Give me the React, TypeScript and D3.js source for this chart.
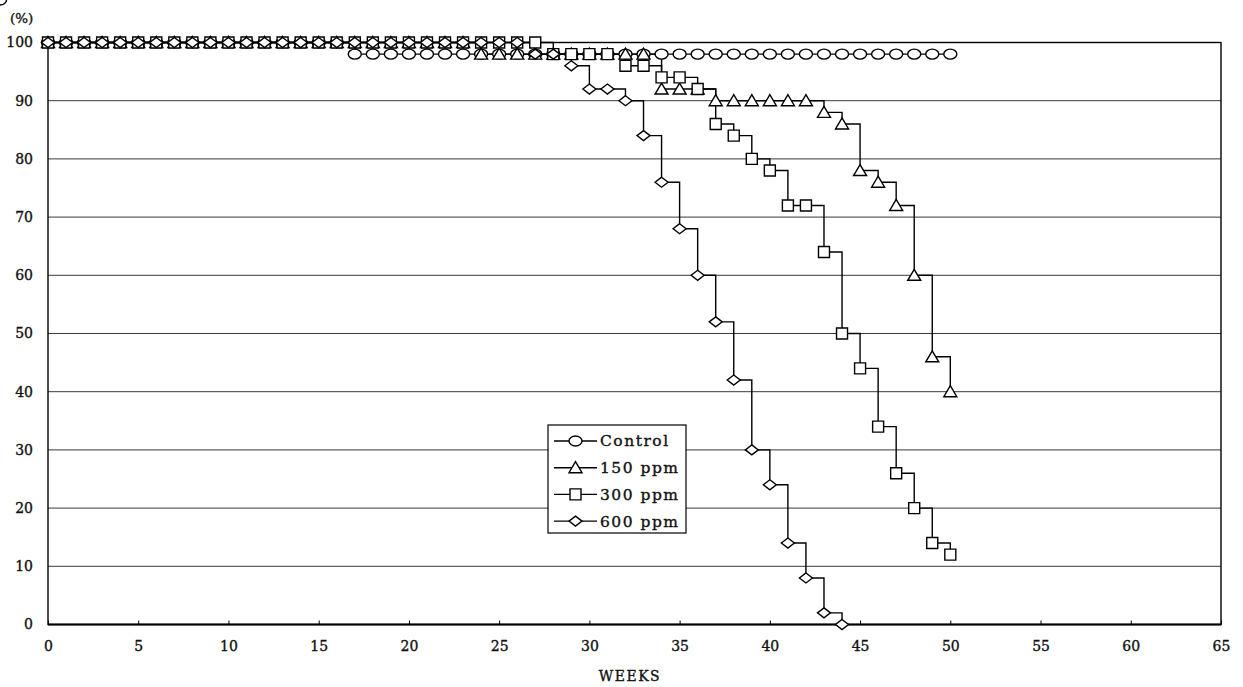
import { useEffect, useRef } from 'react';
import * as d3 from 'd3';

// survival (%) by week
const weeks = [
    0, 1, 2, 3, 4, 5, 6, 7, 8, 9, 10, 11, 12, 13, 14, 15, 16, 17, 18, 19, 20, 21, 22, 23, 24, 25,
    26, 27, 28, 29, 30, 31, 32, 33, 34, 35, 36, 37, 38, 39, 40, 41, 42, 43, 44, 45, 46, 47, 48, 49, 50,
];

const control = [
    100, 100, 100, 100, 100, 100, 100, 100, 100, 100, 100, 100, 100, 100, 100, 100, 100,
    98, 98, 98, 98, 98, 98, 98, 98, 98, 98, 98, 98, 98, 98, 98, 98, 98, 98, 98, 98, 98,
    98, 98, 98, 98, 98, 98, 98, 98, 98, 98, 98, 98, 98, 98,
];

const ppm150 = [
    100, 100, 100, 100, 100, 100, 100, 100, 100, 100, 100, 100, 100, 100, 100, 100, 100,
    100, 100, 100, 100, 100, 100, 100, 98, 98, 98, 98, 98, 98, 98, 98, 98, 98, 92, 92, 92,
    90, 90, 90, 90, 90, 90, 88, 86, 78, 76, 72, 60, 46, 40,
];

const ppm300 = [
    100, 100, 100, 100, 100, 100, 100, 100, 100, 100, 100, 100, 100, 100, 100, 100, 100,
    100, 100, 100, 100, 100, 100, 100, 100, 100, 100, 100, 98, 98, 98, 98, 96, 96, 94, 94, 92,
    86, 84, 80, 78, 72, 72, 64, 50, 44, 34, 26, 20, 14, 12,
];

const ppm600 = [
    100, 100, 100, 100, 100, 100, 100, 100, 100, 100, 100, 100, 100, 100, 100, 100, 100,
    100, 100, 100, 100, 100, 100, 100, 100, 100, 100, 98, 98, 96, 92, 92, 90, 84, 76, 68, 60,
    52, 42, 30, 24, 14, 8, 2, 0,
];

const seriesNames = ['Control', '150 ppm', '300 ppm', '600 ppm'];
const seriesValues = [control, ppm150, ppm300, ppm600];
const xTicks = [0, 5, 10, 15, 20, 25, 30, 35, 40, 45, 50, 55, 60, 65];
const yTicks = [0, 10, 20, 30, 40, 50, 60, 70, 80, 90, 100];

const FONT = '"DejaVu Serif", "Liberation Serif", serif';

// marker outlines, centred on 0,0
const markerPaths = [
    'M -6.5 0 A 6.5 5 0 1 0 6.5 0 A 6.5 5 0 1 0 -6.5 0 Z',
    'M 0 -6 L 6.5 5 L -6.5 5 Z',
    'M -5.5 -5.5 L 5.5 -5.5 L 5.5 5.5 L -5.5 5.5 Z',
    'M 0 -5 L 6.5 0 L 0 5 L -6.5 0 Z',
];

function App() {
    const chartRef = useRef(null);

    useEffect(() => {
        const svg = d3.select(chartRef.current);
        svg.selectAll('*').remove();

        const left = 48;
        const right = 1221;
        const top = 42.5;
        const bottom = 624.5;

        const x = d3.scaleLinear().domain([0, 65]).range([left, right]);
        const y = d3.scaleLinear().domain([0, 100]).range([bottom, top]);

        // gridlines
        svg.append('g')
            .selectAll('line')
            .data(yTicks.filter((t) => t > 0 && t < 100))
            .enter()
            .append('line')
            .attr('x1', left)
            .attr('x2', right)
            .attr('y1', (d) => y(d))
            .attr('y2', (d) => y(d))
            .attr('stroke', '#3a3a3a')
            .attr('stroke-width', 1);

        // frame
        svg.append('rect')
            .attr('x', left)
            .attr('y', top)
            .attr('width', right - left)
            .attr('height', bottom - top)
            .attr('fill', 'none')
            .attr('stroke', '#000')
            .attr('stroke-width', 1.4);
        svg.append('line')
            .attr('x1', left)
            .attr('x2', right)
            .attr('y1', bottom)
            .attr('y2', bottom)
            .attr('stroke', '#000')
            .attr('stroke-width', 2);

        const styleText = (sel: any, size: number) =>
            sel
                .attr('font-family', FONT)
                .attr('font-size', size)
                .attr('fill', '#111')
                .attr('stroke', '#111')
                .attr('stroke-width', 0.35);

        const xAxis = svg
            .append('g')
            .attr('transform', `translate(0,${bottom})`)
            .call(d3.axisBottom(x).tickValues(xTicks).tickSizeInner(-4).tickSizeOuter(0).tickPadding(17));
        xAxis.select('.domain').remove();
        xAxis.selectAll('line').attr('stroke', '#000');
        styleText(xAxis.selectAll('text'), 14);

        const yAxis = svg
            .append('g')
            .attr('transform', `translate(${left},0)`)
            .call(d3.axisLeft(y).tickValues(yTicks).tickSize(0).tickPadding(15));
        yAxis.select('.domain').remove();
        styleText(yAxis.selectAll('text'), 14);

        styleText(svg.append('text').attr('x', 10).attr('y', 23), 13.5).text('(%)');

        styleText(
            svg.append('text').attr('x', 630).attr('y', 681).attr('text-anchor', 'middle').attr('letter-spacing', 1.5),
            14
        ).text('WEEKS');

        const line = d3
            .line<number>()
            .x((_d, i) => x(weeks[i]))
            .y((d) => y(d))
            .curve(d3.curveStepAfter);

        seriesValues.forEach((vals) => {
            svg.append('path')
                .attr('d', line(vals) as string)
                .attr('fill', 'none')
                .attr('stroke', '#000')
                .attr('stroke-width', 1.4);
        });

        seriesValues.forEach((vals, s) => {
            svg.append('g')
                .selectAll('path')
                .data(vals)
                .enter()
                .append('path')
                .attr('d', markerPaths[s])
                .attr('transform', (d, i) => `translate(${x(weeks[i])},${y(d)})`)
                .attr('fill', '#fff')
                .attr('stroke', '#000')
                .attr('stroke-width', 1.4);
        });

        // legend
        const legend = svg.append('g').attr('transform', 'translate(548,425)');
        legend
            .append('rect')
            .attr('width', 138)
            .attr('height', 108)
            .attr('fill', '#fff')
            .attr('stroke', '#000')
            .attr('stroke-width', 1.2);

        const item = legend
            .selectAll('.item')
            .data(seriesNames)
            .enter()
            .append('g')
            .attr('class', 'item')
            .attr('transform', (_d, i) => `translate(0,${16 + i * 26.7})`);
        item.append('line')
            .attr('x1', 6)
            .attr('x2', 49)
            .attr('stroke', '#000')
            .attr('stroke-width', 1.4);
        item.append('path')
            .attr('d', (_d, i) => markerPaths[i])
            .attr('transform', 'translate(27.5,0)')
            .attr('fill', '#fff')
            .attr('stroke', '#000')
            .attr('stroke-width', 1.4);
        styleText(item.append('text').attr('x', 52).attr('dy', '0.35em').attr('letter-spacing', 1.5), 15.5).text(
            (d) => d
        );
    }, []);

    return (
        <svg
            ref={chartRef}
            width="1243"
            height="687"
            style={{ position: 'absolute', left: 0, top: 0, background: '#fff' }}
        ></svg>
    );
}

export default App;
